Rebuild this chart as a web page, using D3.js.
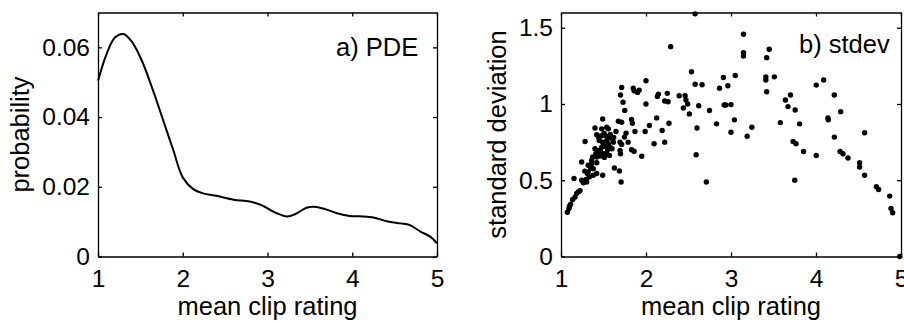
<!DOCTYPE html>
<html>
<head>
<meta charset="utf-8">
<script src="https://cdn.jsdelivr.net/npm/d3@7"></script>
<style>
  html, body { margin: 0; padding: 0; background: #fff; }
  svg { display: block; }
  text { font-family: "Liberation Sans", Arial, Helvetica, sans-serif; fill: #000; }
  .axis path, .axis line { stroke: #000; stroke-width: 1.3; }
  .axis text { font-size: 24.5px; font-family: "Liberation Sans", Arial, Helvetica, sans-serif; }
</style>
</head>
<body>
<svg id="fig" width="904" height="323"></svg>
<script>
// Panel a: probability density of mean clip rating
const pdeX = [1.0, 1.1, 1.2, 1.3, 1.39, 1.51, 1.65, 1.77, 1.89, 2.0, 2.12, 2.24, 2.4, 2.6, 2.79, 2.93,
              3.11, 3.23, 3.33, 3.46, 3.55, 3.68, 3.82, 3.97, 4.13, 4.25, 4.41, 4.57, 4.68, 4.80, 4.92, 5.0];
const pdeY = [0.0504, 0.058, 0.0628, 0.0638, 0.0619, 0.0566, 0.0476, 0.039, 0.0304, 0.0227, 0.0194, 0.0181,
              0.0174, 0.0163, 0.0158, 0.0147, 0.0124, 0.0115, 0.0122, 0.0140, 0.0143, 0.0136, 0.0124, 0.0116,
              0.0115, 0.0112, 0.0101, 0.0095, 0.0090, 0.0072, 0.0057, 0.0038];

// Panel b: per-clip mean rating vs. standard deviation
const clipMean = [
  1.075, 1.094, 1.10, 1.114, 1.137, 1.165, 1.153, 1.184, 1.204, 1.224, 1.243, 1.243, 1.262, 1.283, 1.294,
  1.302, 1.31, 1.32, 1.333, 1.32, 1.36, 1.36, 1.373, 1.38, 1.38, 1.40, 1.40, 1.41, 1.42, 1.42,
  1.42, 1.42, 1.44, 1.44, 1.46, 1.467, 1.479, 1.479, 1.49, 1.49, 1.49, 1.50, 1.506, 1.506, 1.52,
  1.538, 1.538, 1.538, 1.557, 1.557, 1.57, 1.57, 1.577, 1.60, 1.60, 1.616, 1.628, 1.647, 1.675, 1.687,
  1.695, 1.695, 1.70, 1.70, 1.707, 1.714, 1.714, 1.714, 1.73, 1.746, 1.75, 1.765, 1.79, 1.83, 1.83,
  1.84, 1.85, 1.86, 1.86, 1.87, 1.90, 1.92, 1.95, 1.99, 2.0, 2.0, 2.04, 2.095, 2.126, 2.134,
  2.146, 2.19, 2.22, 2.22, 2.25, 2.26, 2.27, 2.29, 2.39, 2.44, 2.46, 2.47, 2.49, 2.51, 2.535,
  2.578, 2.578, 2.59, 2.60, 2.62, 2.66, 2.71, 2.747, 2.83, 2.865, 2.91, 2.92, 2.94, 2.963, 3.0,
  3.0, 3.04, 3.05, 3.147, 3.147, 3.147, 3.19, 3.245, 3.41, 3.41, 3.42, 3.42, 3.45, 3.51, 3.58,
  3.64, 3.67, 3.70, 3.73, 3.75, 3.755, 3.765, 3.807, 3.854, 4.003, 4.003, 4.09, 4.14, 4.145, 4.215,
  4.216, 4.283, 4.29, 4.317, 4.376, 4.513, 4.513, 4.572, 4.572, 4.71, 4.737, 4.867, 4.882, 4.902, 4.985,
  1.45, 1.53, 1.55, 1.47, 1.58, 1.51, 1.43, 1.35, 1.28, 1.62
];
const clipStd = [
  0.29, 0.315, 0.33, 0.343, 0.374, 0.39, 0.511, 0.413, 0.424, 0.432, 0.62, 0.50, 0.483, 0.754, 0.505,
  0.489, 0.544, 0.554, 0.522, 0.598, 0.609, 0.63, 0.652, 0.533, 0.576, 0.843, 0.707, 0.674, 0.798, 0.652,
  0.615, 0.544, 0.783, 0.696, 0.659, 0.685, 0.717, 0.837, 0.902, 0.75, 0.533, 0.729, 0.809, 0.674, 0.793,
  0.848, 0.761, 0.674, 0.837, 0.739, 0.787, 0.663, 0.717, 0.772, 0.707, 0.75, 0.58, 0.82, 0.887, 0.561,
  0.75, 0.696, 1.059, 0.674, 0.489, 1.109, 0.88, 0.735, 1.011, 0.783, 0.957, 0.809, 0.75, 0.898, 0.70,
  0.874, 1.104, 1.087, 0.69, 0.82, 1.076, 1.091, 0.657, 0.82, 1.152, 1.0, 0.859, 0.739, 0.909, 1.05,
  1.065, 0.826, 1.02, 0.75, 1.07, 1.015, 0.874, 1.376, 1.054, 0.974, 1.054, 1.026, 1.0, 0.935, 1.211,
  1.591, 1.13, 0.667, 0.843, 0.989, 1.126, 0.489, 0.957, 0.87, 1.104, 1.174, 0.993, 0.993, 1.12, 0.996,
  0.815, 0.896, 1.187, 1.457, 1.337, 1.315, 0.789, 0.848, 1.178, 1.157, 1.304, 1.08, 1.359, 1.178, 0.878,
  1.026, 0.983, 1.059, 0.754, 0.5, 0.961, 0.739, 0.87, 0.689, 1.124, 0.663, 1.157, 0.909, 0.896, 1.059,
  0.783, 0.689, 0.95, 0.674, 0.646, 0.615, 0.587, 0.811, 0.533, 0.457, 0.439, 0.396, 0.315, 0.287, 0.0,
  0.76, 0.72, 0.70, 0.79, 0.80, 0.65, 0.67, 0.58, 0.56, 0.78
];

const xTicks = [1, 2, 3, 4, 5];
const pdeTicks = [0, 0.02, 0.04, 0.06];
const stdTicks = [0, 0.5, 1, 1.5];

const svg = d3.select("#fig");
const fmt = d3.format("~g");
const labelSize = 25.5;

// Draws a boxed MATLAB-style axes frame with inward ticks on all four sides
function frame(g, x, y, yTicks, xLabel, yLabel, yLabelX, tag, tagX, tagY) {
  const [x0, x1] = x.range();
  const [y0, y1] = y.range();
  const tick = 4;

  g.append("g").attr("class", "axis").attr("transform", `translate(0,${y0})`)
    .call(d3.axisBottom(x).tickValues(xTicks).tickFormat(fmt).tickSizeInner(-tick).tickSizeOuter(0).tickPadding(13));
  g.append("g").attr("class", "axis").attr("transform", `translate(0,${y1})`)
    .call(d3.axisTop(x).tickValues(xTicks).tickFormat("").tickSizeInner(-tick).tickSizeOuter(0));
  g.append("g").attr("class", "axis").attr("transform", `translate(${x0},0)`)
    .call(d3.axisLeft(y).tickValues(yTicks).tickFormat(fmt).tickSizeInner(-tick).tickSizeOuter(0).tickPadding(8));
  g.append("g").attr("class", "axis").attr("transform", `translate(${x1},0)`)
    .call(d3.axisRight(y).tickValues(yTicks).tickFormat("").tickSizeInner(-tick).tickSizeOuter(0));

  g.append("text")
    .attr("x", (x0 + x1) / 2).attr("y", 315)
    .attr("text-anchor", "middle").attr("font-size", labelSize)
    .text(xLabel);
  g.append("text")
    .attr("transform", `translate(${yLabelX},${(y0 + y1) / 2}) rotate(-90)`)
    .attr("text-anchor", "middle").attr("font-size", labelSize)
    .text(yLabel);
  g.append("text")
    .attr("x", tagX).attr("y", tagY)
    .attr("font-size", labelSize)
    .text(tag);
}

// ---- panel a ----
const xa = d3.scaleLinear().domain([1, 5]).range([98, 437]);
const ya = d3.scaleLinear().domain([0, 0.07]).range([256.5, 12.5]);
const ga = svg.append("g");
frame(ga, xa, ya, pdeTicks, "mean clip rating", "probability", 29, "a) PDE", 336, 56);

const line = d3.line()
  .x((d, i) => xa(pdeX[i]))
  .y((d, i) => ya(pdeY[i]))
  .curve(d3.curveCatmullRom.alpha(0.5));
ga.append("path")
  .datum(pdeY)
  .attr("d", line)
  .attr("fill", "none")
  .attr("stroke", "#000")
  .attr("stroke-width", 2);

// ---- panel b ----
const xb = d3.scaleLinear().domain([1, 5]).range([561, 901]);
const yb = d3.scaleLinear().domain([0, 1.6]).range([256.5, 12.5]);
const gb = svg.append("g");
frame(gb, xb, yb, stdTicks, "mean clip rating", "standard deviation", 506, "b) stdev", 799, 53);

gb.append("g").selectAll("circle")
  .data(clipMean)
  .join("circle")
  .attr("cx", d => xb(d))
  .attr("cy", (d, i) => yb(clipStd[i]))
  .attr("r", 2.7)
  .attr("fill", "#000");
</script>
</body>
</html>
